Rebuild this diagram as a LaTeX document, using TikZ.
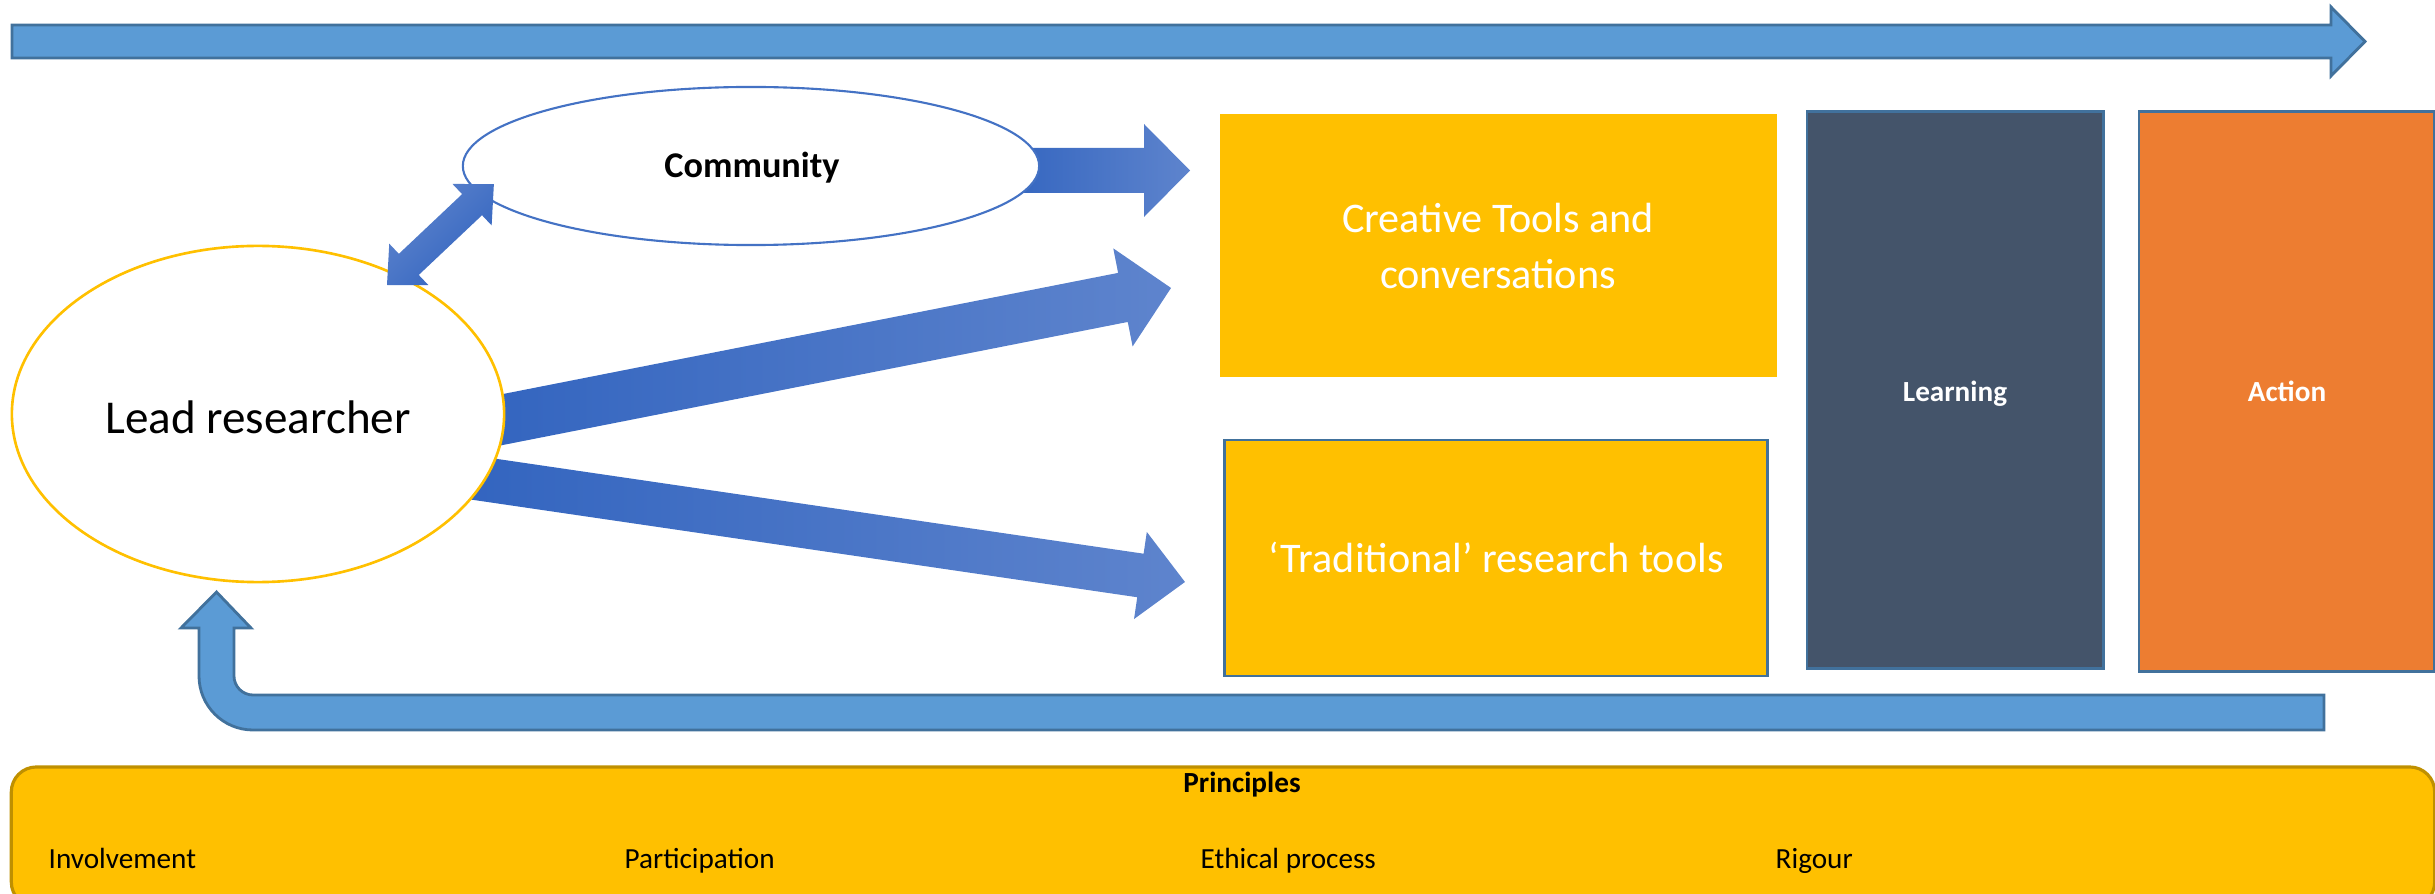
\documentclass[tikz,border=0pt]{standalone}
\usepackage{fontspec}
\setmainfont{Carlito}
\usetikzlibrary{shapes.geometric}
\definecolor{skyb}{HTML}{5B9BD5}
\definecolor{edgeb}{HTML}{41719C}
\definecolor{gold}{HTML}{FFC000}
\definecolor{darkgold}{HTML}{BF9000}
\definecolor{slate}{HTML}{44546A}
\definecolor{orng}{HTML}{ED7D31}
\definecolor{accb}{HTML}{4472C4}
\definecolor{gdark}{RGB}{50,100,191}
\definecolor{glight}{RGB}{94,132,205}
\begin{document}
\begin{tikzpicture}[x=0.01cm,y=-0.01cm,
  blockarrow/.style={fill=skyb, draw=edgeb, line width=0.8pt, line join=miter},
  gradarrow/.style={left color=gdark, right color=glight, draw=none},
  boxshape/.style={rectangle, inner sep=0pt, outer sep=0pt},
  boxtxt/.style={text=white, font=\fontsize{12pt}{15pt}\selectfont, anchor=base, inner sep=0pt},
  smallbold/.style={font=\bfseries\fontsize{8.3pt}{10pt}\selectfont, anchor=base, inner sep=0pt},
  item/.style={font=\fontsize{8.3pt}{10pt}\selectfont, anchor=base west, inner sep=0pt}]
\useasboundingbox (0,0) rectangle (2435,894);

% top timeline arrow
\draw[blockarrow] (12,25) -- (2331,25) -- (2331,7) -- (2365,41.5) -- (2331,76) -- (2331,58) -- (12,58) -- cycle;

% gradient arrows
\path[gradarrow] (1000,148) -- (1144,148) -- (1144,124) -- (1190,170.5) -- (1144,217) -- (1144,193) -- (1000,193) -- cycle;
\begin{scope}[shift={(470,426)}, rotate=11.14]
  \path[gradarrow] (0,-25) -- (665.5,-25) -- (665.5,-50) -- (714.5,0) -- (665.5,50) -- (665.5,25) -- (0,25) -- cycle;
\end{scope}
\begin{scope}[shift={(455,475)}, rotate=-8.34]
  \path[gradarrow] (0,-22) -- (692.8,-22) -- (692.8,-44) -- (737.8,0) -- (692.8,44) -- (692.8,22) -- (0,22) -- cycle;
\end{scope}

% ellipses
\node[ellipse, draw=accb, fill=white, line width=0.6pt, minimum width=5.76cm, minimum height=1.58cm, inner sep=0pt] (community) at (751,166) {};
\node[ellipse, draw=gold, fill=white, line width=0.75pt, minimum width=4.92cm, minimum height=3.36cm, inner sep=0pt] (lead) at (258,414) {};

% double arrow between lead and community
\begin{scope}[shift={(387,285)}, rotate=43.35]
  \path[top color=glight, bottom color=gdark, shading angle=45] (0,0) -- (30,-28.5) -- (30,-14.5) -- (117,-14.5) -- (117,-28.5) -- (147,0) -- (117,28.5) -- (117,14.5) -- (30,14.5) -- (30,28.5) -- cycle;
\end{scope}

% boxes
\node[boxshape, fill=gold, minimum width=5.57cm, minimum height=2.63cm] (creative) at (1498.5,245.5) {};
\node[boxshape, fill=gold, draw=edgeb, line width=0.8pt, minimum width=5.42cm, minimum height=2.36cm] (traditional) at (1496,558) {};
\node[boxshape, fill=slate, draw=edgeb, line width=0.8pt, minimum width=2.96cm, minimum height=5.56cm] (learning) at (1955,390) {};
\node[boxshape, fill=orng, draw=edgeb, line width=0.8pt, minimum width=2.95cm, minimum height=5.59cm] (action) at (2286.5,391.5) {};

% feedback U arrow
\draw[blockarrow] (2324,695) -- (253,695) .. controls (242.5,695) and (234,686.5) .. (234,676) -- (234,628) -- (251,628) -- (216.5,592) -- (181,628) -- (199,628) -- (199,676) .. controls (199,705.8) and (223.2,730) .. (253,730) -- (2324,730) -- cycle;

% principles bar
\node[boxshape, fill=gold, draw=darkgold, line width=0.9pt, rounded corners=0.25cm, minimum width=24.22cm, minimum height=1.40cm] (principles) at (1223,837) {};

% texts
\node[font=\fontsize{13.4pt}{16pt}\selectfont, anchor=base, inner sep=0pt] (leadtxt) at (258,433) {Lead researcher};
\node[font=\bfseries\fontsize{10.3pt}{12pt}\selectfont, anchor=base, inner sep=0pt] (commtxt) at (752,178) {Community};
\node[boxtxt] (cre1) at (1498,233) {Creative Tools and};
\node[boxtxt] (cre2) at (1498,288) {conversations};
\node[boxtxt] (tradtxt) at (1496,572) {‘Traditional’ research tools};
\node[smallbold, text=white] (learntxt) at (1955,402) {Learning};
\node[smallbold, text=white] (acttxt) at (2287,402) {Action};
\node[smallbold] (printxt) at (1242,792) {Principles};
\node[item] (p1) at (48,868) {Involvement};
\node[item] (p2) at (624,868) {Participation};
\node[item] (p3) at (1200,868) {Ethical process};
\node[item] (p4) at (1775,868) {Rigour};
\end{tikzpicture}
\end{document}
